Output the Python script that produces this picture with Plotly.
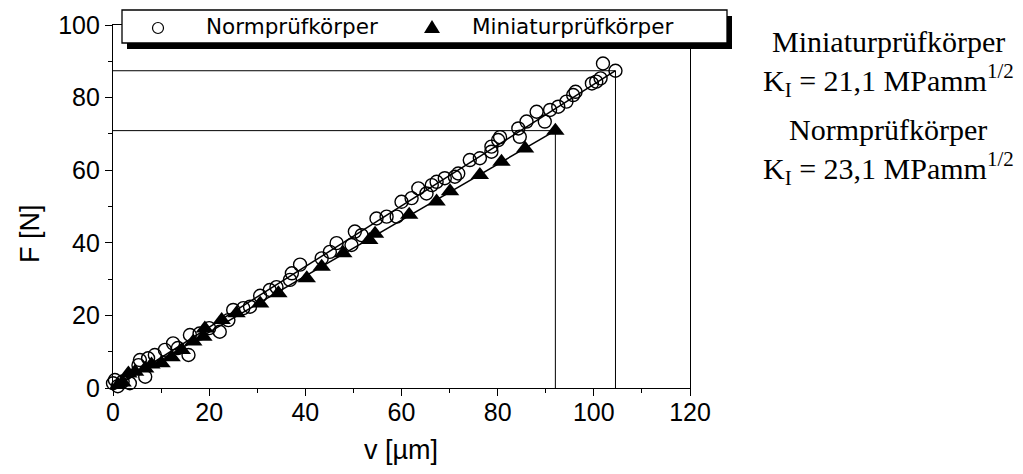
import plotly.graph_objects as go

# Normprüfkörper: crack-opening displacement v [µm] and load F [N]
norm_v = [0.0, 0.4, 1.0, 2.0, 3.5, 5.3, 5.6, 6.7, 7.3, 8.7, 10.8, 12.5, 13.5, 15.7, 16.0,
          18.0, 20.0, 22.2, 24.0, 25.0, 27.1, 28.5, 30.6, 32.6, 34.0, 36.8, 37.2, 38.9,
          43.4, 45.1, 46.5, 49.6, 50.3, 51.7, 54.8, 56.9, 59.0, 60.0, 62.1, 63.5, 65.2,
          66.3, 67.3, 69.0, 71.1, 71.8, 74.2, 76.3, 78.7, 78.7, 80.1, 80.5, 84.3, 84.6,
          86.0, 88.1, 89.8, 90.9, 92.6, 94.3, 95.7, 96.2, 99.6, 100.5, 101.4, 101.9, 104.5]
norm_F = [1.3, 2.2, 0.5, 1.8, 1.3, 6.3, 7.7, 3.1, 8.2, 9.1, 10.5, 12.3, 11.0, 9.1, 14.6,
          15.0, 16.5, 15.5, 18.7, 21.5, 22.0, 22.4, 25.4, 27.0, 27.8, 29.8, 31.6, 34.0,
          35.7, 37.5, 39.9, 39.4, 43.1, 42.1, 46.7, 47.2, 47.2, 51.3, 52.3, 55.0, 53.6,
          55.9, 56.8, 57.8, 58.2, 59.1, 62.8, 63.3, 65.1, 66.5, 68.3, 69.1, 71.5, 69.2,
          73.4, 76.1, 73.4, 76.6, 77.5, 78.9, 80.7, 81.6, 83.9, 84.4, 85.3, 89.4, 87.4]

# Miniaturprüfkörper
mini_v = [1.1, 2.0, 3.2, 4.6, 6.7, 8.0, 10.1, 12.2, 14.3, 16.7, 18.8, 19.1, 22.6, 25.7,
          30.6, 34.4, 40.3, 43.4, 47.9, 53.3, 54.5, 61.6, 67.3, 70.1, 76.3, 80.8, 85.7, 92.0]
mini_F = [0.8, 1.5, 4.0, 4.5, 5.4, 6.5, 6.8, 8.5, 10.5, 12.8, 14.1, 16.4, 18.7, 20.6,
          23.3, 26.1, 30.2, 33.4, 37.1, 40.8, 42.5, 47.7, 51.4, 54.2, 58.7, 62.3, 66.0, 70.9]

series_names = ["Normprüfkörper", "Miniaturprüfkörper"]
k_values = ["21,1", "23,1"]
x_ticks = [0, 20, 40, 60, 80, 100, 120]
y_ticks = [0, 20, 40, 60, 80, 100]

W, H = 1023, 474
L, R, T, B = 113, 333, 25, 86
PW, PH = W - L - R, H - T - B


def px(x):
    return (x - L) / PW


def py(y):
    return (H - B - y) / PH


SANS = "Liberation Sans"
LEG = "DejaVu Sans"
SERIF = "Liberation Serif"

fig = go.Figure()

# drop lines from the end points to both axes
for v, F in ((norm_v, norm_F), (mini_v, mini_F)):
    fig.add_trace(go.Scatter(x=[0, v[-1], v[-1]], y=[F[-1], F[-1], 0], mode="lines",
                             line=dict(color="black", width=1), hoverinfo="skip",
                             cliponaxis=False))

# straight lines from the origin to the last measurement
for v, F in ((norm_v, norm_F), (mini_v, mini_F)):
    fig.add_trace(go.Scatter(x=[0, v[-1]], y=[0, F[-1]], mode="lines",
                             line=dict(color="black", width=1.5), hoverinfo="skip",
                             cliponaxis=False))

fig.add_trace(go.Scatter(x=norm_v, y=norm_F, mode="markers", name=series_names[0],
                         marker=dict(symbol="circle-open", size=13, color="black",
                                     line=dict(width=1.4, color="black")),
                         cliponaxis=False))
fig.add_trace(go.Scatter(x=mini_v, y=mini_F, mode="markers", name=series_names[1],
                         marker=dict(symbol="triangle-up", size=16, color="black"),
                         cliponaxis=False))

axis_common = dict(
    tickmode="array", ticks="outside", ticklen=7, tickwidth=1.3, tickcolor="black",
    showline=True, linecolor="black", linewidth=1.3, showgrid=False, zeroline=False,
    tickfont=dict(family=SANS, size=25, color="black"),
    minor=dict(dtick=10, ticks="outside", ticklen=4, tickwidth=1.3, tickcolor="black",
               showgrid=False),
)

shapes = [
    # legend frame with drop shadow
    dict(type="rect", xref="paper", yref="paper", layer="above",
         x0=px(127), x1=px(732), y0=py(16), y1=py(49),
         fillcolor="black", line=dict(width=0)),
    dict(type="rect", xref="paper", yref="paper", layer="above",
         x0=px(122), x1=px(727), y0=py(10), y1=py(43),
         fillcolor="white", line=dict(color="black", width=1.3)),
    # legend symbols
    dict(type="circle", xref="paper", yref="paper", layer="above",
         xsizemode="pixel", ysizemode="pixel", xanchor=px(158), yanchor=py(28),
         x0=-5.5, x1=5.5, y0=-5.5, y1=5.5, line=dict(color="black", width=1.2)),
    dict(type="path", xref="paper", yref="paper", layer="above",
         xsizemode="pixel", ysizemode="pixel", xanchor=px(432), yanchor=py(28),
         path="M -8,-5 L 8,-5 L 0,8 Z", fillcolor="black", line=dict(width=0)),
]

annotations = [
    dict(text="F [N]", x=px(30), y=py(234), textangle=-90,
         font=dict(family=SANS, size=27, color="black")),
    dict(text="v [µm]", x=px(401), y=py(450),
         font=dict(family=SANS, size=27, color="black")),
    dict(text=series_names[0], x=px(205), y=py(27), xanchor="left",
         font=dict(family=LEG, size=21.5, color="black")),
    dict(text=series_names[1], x=px(471), y=py(27), xanchor="left",
         font=dict(family=LEG, size=21.5, color="black")),
    dict(text=series_names[1], x=px(888), y=py(41),
         font=dict(family=SERIF, size=30, color="black")),
    dict(text=f"K<sub>I</sub> = {k_values[0]} MPamm<sup>1/2</sup>", x=px(888), y=py(80),
         font=dict(family=SERIF, size=30, color="black")),
    dict(text=series_names[0], x=px(888), y=py(129),
         font=dict(family=SERIF, size=30, color="black")),
    dict(text=f"K<sub>I</sub> = {k_values[1]} MPamm<sup>1/2</sup>", x=px(888), y=py(168),
         font=dict(family=SERIF, size=30, color="black")),
]
for a in annotations:
    a.update(xref="paper", yref="paper", showarrow=False, borderpad=0)
    a.setdefault("xanchor", "center")
    a.setdefault("yanchor", "middle")

fig.update_layout(
    width=W, height=H, margin=dict(l=L, r=R, t=T, b=B, pad=0),
    paper_bgcolor="white", plot_bgcolor="white", showlegend=False,
    xaxis=dict(range=[0, 120], tickvals=x_ticks, mirror=True, ticklabelstandoff=-5,
               **axis_common),
    yaxis=dict(range=[0, 100], tickvals=y_ticks, mirror=True, **axis_common),
    yaxis2=dict(overlaying="y", side="right", anchor="x", range=[0, 100],
                tickmode="linear", tick0=0, dtick=10, ticks="outside", ticklen=3,
                tickwidth=1, tickcolor="black", showticklabels=False,
                showgrid=False, zeroline=False, showline=False),
    shapes=shapes, annotations=annotations,
)

fig.write_html("out.html")
